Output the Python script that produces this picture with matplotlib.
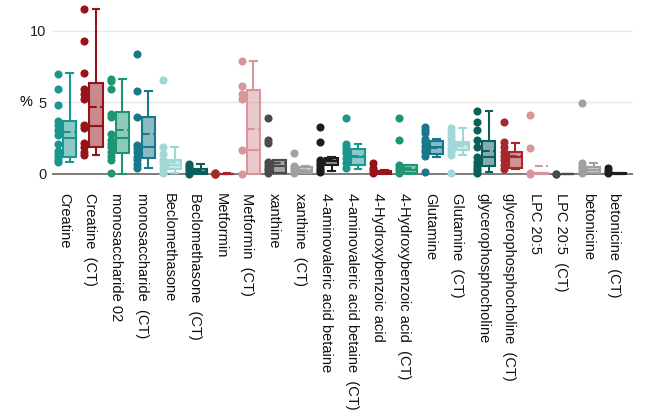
import numpy as np
import matplotlib
matplotlib.use("Agg")
import matplotlib.pyplot as plt
from matplotlib.colors import to_rgba

plt.rcParams['font.family'] = ['Liberation Sans', 'DejaVu Sans']

categories = ["Creatine", "Creatine  (CT)", "monosaccharide 02", "monosaccharide  (CT)",
              "Beclomethasone", "Beclomethasone  (CT)", "Metformin", "Metformin  (CT)",
              "xanthine", "xanthine  (CT)", "4-aminovaleric acid betaine",
              "4-aminovaleric acid betaine  (CT)", "4-Hydroxybenzoic acid",
              "4-Hydroxybenzoic acid  (CT)", "Glutamine", "Glutamine  (CT)",
              "glycerophosphocholine", "glycerophosphocholine  (CT)", "LPC 20:5",
              "LPC 20:5  (CT)", "betonicine", "betonicine  (CT)"]

points = [
    [7.0, 5.9, 4.8, 3.7, 3.45, 3.1, 2.7, 2.1, 1.6, 1.4, 1.2, 1.0, 0.85],
    [11.5, 9.3, 7.05, 5.9, 5.6, 5.2, 3.45, 3.2, 2.15, 1.9, 1.55, 1.35],
    [6.6, 6.5, 5.9, 4.2, 3.95, 2.8, 2.4, 2.1, 1.85, 1.5, 1.25, 0.95, 0.05],
    [8.35, 5.8, 4.0, 2.0, 1.8, 1.5, 1.2, 1.0, 0.7, 0.45],
    [6.55, 1.9, 1.4, 1.0, 0.75, 0.45, 0.15, 0.05],
    [0.72, 0.55, 0.4, 0.25, 0.1, 0.03],
    [0.1, 0.06, 0.03, 0.01, 0.0],
    [7.9, 6.15, 5.55, 5.2, 1.65, 0.03],
    [3.9, 2.35, 2.15, 0.85, 0.65, 0.45, 0.25, 0.1],
    [1.45, 0.55, 0.4, 0.25, 0.1],
    [3.3, 2.2, 0.95, 0.8, 0.6, 0.45, 0.3, 0.15],
    [3.93, 2.1, 1.9, 1.65, 1.45, 1.1, 0.75, 0.45],
    [0.75, 0.45, 0.25, 0.08],
    [3.93, 2.35, 0.62, 0.45, 0.28, 0.08],
    [3.3, 3.1, 2.85, 2.45, 2.2, 1.95, 1.7, 1.5, 1.25, 0.15],
    [3.2, 2.95, 2.65, 2.35, 2.1, 1.8, 1.55, 1.3, 0.08],
    [4.42, 3.6, 3.1, 2.35, 1.9, 1.2, 0.85, 0.62, 0.45, 0.28, 0.08],
    [3.65, 2.2, 1.9, 1.55, 1.25, 0.98, 0.62, 0.33],
    [4.1, 1.8, 0.05, 0.0],
    [0.03, 0.0],
    [4.93, 0.75, 0.55, 0.4, 0.22, 0.05],
    [0.4, 0.22, 0.05],
]

q1 =     [1.21, 1.90, 1.44, 1.09, 0.33, 0.00, 0.00, 0.00, 0.10, 0.05, 0.60, 0.63, 0.00, 0.05, 1.40, 1.67, 0.56, 0.40, 0.02, 0.00, 0.05, 0.00]
median = [2.53, 3.35, 2.53, 1.86, 0.60, 0.15, 0.01, 1.67, 0.53, 0.23, 0.88, 1.20, 0.05, 0.30, 1.91, 2.09, 1.21, 1.16, 0.03, 0.00, 0.28, 0.03]
q3 =     [3.72, 6.33, 4.35, 3.95, 0.98, 0.33, 0.03, 5.86, 1.00, 0.50, 1.15, 1.74, 0.20, 0.63, 2.30, 2.25, 2.30, 1.56, 0.05, 0.02, 0.51, 0.05]
whislo = [0.84, 1.33, 0.00, 0.44, 0.05, 0.00, 0.00, 0.00, 0.10, 0.05, 0.23, 0.33, 0.00, 0.00, 1.21, 1.32, 0.16, 0.33, 0.00, 0.00, 0.05, 0.00]
whishi = [7.02, 11.49, 6.63, 5.79, 1.86, 0.67, 0.05, 7.90, 1.00, 0.55, 1.20, 2.09, 0.28, 0.63, 2.47, 3.19, 4.42, 2.19, 0.08, 0.03, 0.74, 0.10]
mean =   [2.90, 4.70, 3.07, 2.77, 0.85, 0.25, 0.03, 3.14, 0.75, 0.30, 0.95, 1.25, 0.15, 0.40, 1.80, 1.95, 1.60, 1.26, 0.56, 0.01, 0.30, 0.05]

palette = ["#1a9691", "#961419", "#1e9673", "#19788c", "#a0d7d7", "#0a5f5a",
           "#a5282d", "#d7969b", "#4b4b4b", "#a0a0a0", "#1e1e1e"]

fig = plt.figure(figsize=(6.55, 4.18), dpi=100)
ax = fig.add_axes([52/655, 1-178/418, (633-52)/655, (178-5)/418])

for i, cat in enumerate(categories):
    c = palette[i % len(palette)]
    st = dict(q1=q1[i], med=median[i], q3=q3[i], whislo=whislo[i],
              whishi=whishi[i], mean=mean[i], fliers=[])
    ax.bxp([st], positions=[i + 0.2], widths=0.5, patch_artist=True,
           showmeans=True, meanline=True, showfliers=False, capwidths=0.26,
           boxprops=dict(facecolor=to_rgba(c, 0.5), edgecolor=c, linewidth=1.5),
           whiskerprops=dict(color=c, linewidth=1.5),
           capprops=dict(color=c, linewidth=1.5),
           medianprops=dict(color=c, linewidth=1.5),
           meanprops=dict(color=c, linewidth=1.5, linestyle='--'),
           manage_ticks=False, zorder=2)
    vals = points[i]
    ax.scatter(np.full(len(vals), i - 0.24), vals, s=34, color=c,
               linewidths=0, zorder=3, clip_on=False)

ax.set_xlim(-0.48, 21.7)
ax.set_ylim(-0.28, 11.79)
ax.set_yticks([0, 5, 10])
ax.set_yticklabels(["0", "5", "10"], fontsize=10.5, color="#222222")
ax.set_xticks([i - 0.03 for i in range(len(categories))])
ax.set_xticklabels(categories, rotation=-90, fontsize=10.5, color="#111111",
                   ha='center', va='top')
ax.tick_params(axis='both', length=0)
ax.tick_params(axis='x', pad=11)
ax.tick_params(axis='y', pad=4)
for s in ax.spines.values():
    s.set_visible(False)
for yv in [5, 10]:
    ax.axhline(yv, color="#e8e8e8", linewidth=1, zorder=0)
ax.axhline(0, color="#666666", linewidth=1.2, zorder=1)
ax.set_ylabel("%", rotation=0, fontsize=10.5, labelpad=12, va='center')
ax.yaxis.set_label_coords(-0.045, (5 + 0.28) / (11.79 + 0.28))

fig.savefig("out.png", dpi=100)
